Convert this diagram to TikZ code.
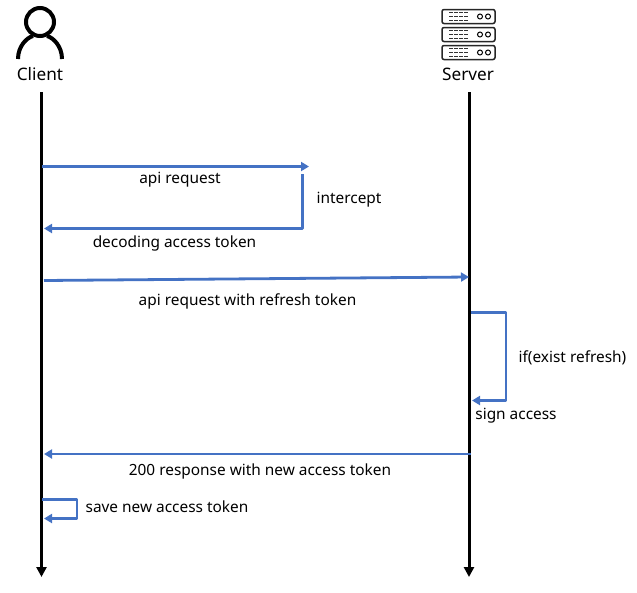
\documentclass[tikz,border=0pt]{standalone}
\usepackage{fontspec}
\setmainfont{Noto Sans}
\usetikzlibrary{arrows.meta}
\definecolor{msgblue}{HTML}{4472C4}
\tikzset{
  x=1pt,y=-1pt,
  lifeline/.style={line width=3pt,-{Triangle[width=10pt,length=10pt]}},
  msg/.style={msgblue,line width=2.8pt,line join=round,-{Triangle[width=9pt,length=8pt]}},
  lbl/.style={font=\fontsize{15.4}{17}\selectfont,text=black,inner sep=0pt},
  actor/.style={font=\fontsize{17.2}{19}\selectfont,text=black,inner sep=0pt},
  icon/.style={line width=4pt,black},
  rack/.style={line width=1.5pt,black!85,rounded corners=2pt}
}
\begin{document}
\begin{tikzpicture}
\useasboundingbox (0,0) rectangle (637,592);
% client icon
\draw[icon] (40,22) circle (14);
\draw[icon] (18,59) .. controls (18,46) and (27,37.5) .. (33,36);
\draw[icon] (62,59) .. controls (62,46) and (53,37.5) .. (47,36);
% server icon
\foreach \ya/\yb in {9.5/23.5,27.5/41.5,45.5/59.5}{
  \draw[rack] (442,\ya) rectangle (495,\yb);
  \draw[black,line width=1pt] (480,{(\ya+\yb)/2}) circle (2.5);
  \draw[black,line width=1pt] (488,{(\ya+\yb)/2}) circle (2.5);
  \foreach \cx in {451,456,461,466}{
    \foreach \cy in {-4,0,4}{
      \fill[black!80] (\cx-1.6,{(\ya+\yb)/2+\cy-0.7}) rectangle (\cx+1.6,{(\ya+\yb)/2+\cy+0.7});
    }
  }
}
\node[actor] (client) at (40,74.5) {Client};
\node[actor] (server) at (468,74.5) {Server};
% lifelines
\coordinate (cTop) at (41.5,92);
\coordinate (cEnd) at (41.5,577);
\coordinate (sTop) at (469,92);
\coordinate (sEnd) at (469,577);
\draw[lifeline] (cTop) -- (cEnd);
\draw[lifeline] (sTop) -- (sEnd);
% message anchors
\coordinate (a1) at (42,166.5);
\coordinate (a2) at (309,166.5);
\coordinate (b1) at (302.5,174);
\coordinate (b2) at (302.5,228.5);
\coordinate (b3) at (44,228.5);
\coordinate (c1) at (44,280.5);
\coordinate (c2) at (469,277);
\coordinate (d1) at (471,312.5);
\coordinate (d2) at (506,312.5);
\coordinate (d3) at (506,400.5);
\coordinate (d4) at (472,400.5);
\coordinate (e1) at (471,454);
\coordinate (e2) at (44,454);
\coordinate (f1) at (42,499.5);
\coordinate (f2) at (77,499.5);
\coordinate (f3) at (77,518.5);
\coordinate (f4) at (44,518.5);
\draw[msg] (a1) -- (a2);
\draw[msg] (b1) -- (b2) -- (b3);
\draw[msg] (c1) -- (c2);
\draw[msg] (d1) -- (d2) -- (d3) -- (d4);
\draw[msg] (e1) -- (e2);
\draw[msg] (f1) -- (f2) -- (f3) -- (f4);
% labels
\node[lbl] (t1) at (180,180) {api request};
\node[lbl] (t2) at (349,200) {intercept};
\node[lbl] (t3) at (174.5,243) {decoding access token};
\node[lbl] (t4) at (247.5,301) {api request with refresh token};
\node[lbl] (t5) at (572.5,358) {if(exist refresh)};
\node[lbl] (t6) at (516,416) {sign access};
\node[lbl] (t7) at (260,471) {200 response with new access token};
\node[lbl] (t8) at (167,506.5) {save new access token};
\end{tikzpicture}
\end{document}
